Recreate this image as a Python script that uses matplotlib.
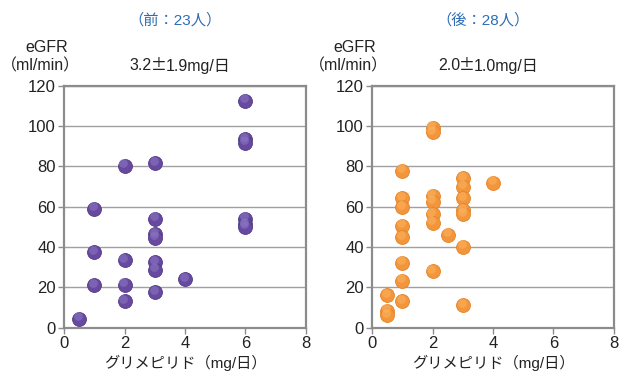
import matplotlib.pyplot as plt
import numpy as np

plt.rcParams['font.family'] = ['Liberation Sans', 'Noto Sans CJK JP']

# before (前): glimepiride dose (mg/day) vs eGFR
before_dose = [6, 6, 6, 2, 3, 1, 3, 6, 6, 6, 3, 3, 1, 2, 3, 3, 4, 1, 2, 3, 2, 0.5]
before_egfr = [112.6, 93.4, 91.7, 80.3, 81.7, 59, 54, 54, 51.4, 50.1, 46.3, 44.6,
               37.4, 33.4, 32.6, 28.8, 24.1, 21, 21.3, 17.5, 13.1, 4.5]

# after (後)
after_dose = [2, 2, 1, 3, 3, 4, 1, 1, 2, 2, 3, 3, 3, 2, 2, 1, 1, 2.5, 3, 1, 2, 1,
              0.5, 1, 3, 0.5, 0.5]
after_egfr = [99.2, 96.9, 77.9, 74.2, 69.9, 71.9, 64.3, 59.7, 65.5, 62.5, 64.3,
              58.3, 56.2, 56.2, 52.1, 50.6, 44.8, 46.1, 40.2, 32.2, 28.1, 23.3,
              16.2, 13.2, 11.2, 8.4, 6.3]

titles = ['（前：23人）', '（後：28人）']
means = [('3.2', '1.9mg/日'), ('2.0', '1.0mg/日')]
colors = ['#67499f', '#f3953a']
edges = ['#523a88', '#e58327']
highlights = ['#8c77c4', '#fbb462']

W, H = 627, 383
fig = plt.figure(figsize=(W / 100, H / 100), dpi=100)


def fx(px):
    return px / W


def fy(py):
    return 1 - py / H


panels = [
    (64.3, before_dose, before_egfr),
    (372.3, after_dose, after_egfr),
]

for i, (left, xs, ys) in enumerate(panels):
    ax = fig.add_axes([fx(left), fy(327.7), 241.5 / W, 242 / H])
    ax.scatter(xs, ys, s=100, color=colors[i], edgecolors=edges[i],
               linewidths=0.6, zorder=3, clip_on=False)
    ax.scatter(np.array(xs) - 0.04, np.array(ys) + 1.2, s=40,
               color=highlights[i], alpha=0.55, linewidths=0, zorder=4,
               clip_on=False)
    ax.set_xlim(0, 8)
    ax.set_ylim(0, 120)
    ax.set_xticks([0, 2, 4, 6, 8])
    ax.set_yticks(range(0, 121, 20))
    ax.yaxis.grid(True, color='#a0a0a0', linewidth=1.0)
    ax.set_axisbelow(True)
    for sp in ax.spines.values():
        sp.set_color('#8c8c8c')
        sp.set_linewidth(1.6)
    ax.tick_params(axis='both', length=4, width=1, color='#8c8c8c',
                   labelsize=12, labelcolor='#222222', pad=2)
    ax.set_xlabel('グリメピリド（mg/日）', fontsize=11, color='#222222', labelpad=3)

    off = left - 64.3
    fig.text(fx(175 + off), fy(20), titles[i], ha='center', va='center',
             fontsize=11, color='#2e6db4')
    fig.text(fx(47 + off), fy(47), 'eGFR', ha='center', va='center',
             fontsize=11.5, color='#222222')
    fig.text(fx(40 + off), fy(66), '（ml/min）', ha='center', va='center',
             fontsize=11.5, color='#222222')
    # mean ± SD, with a full-width ± as in the original
    a, b = means[i]
    fig.text(fx(152 + off), fy(66), a, ha='right', va='center',
             fontsize=11.5, color='#222222')
    fig.text(fx(159 + off), fy(66), '±', ha='center', va='center',
             fontsize=11.5, color='#222222', family='Noto Sans CJK JP')
    fig.text(fx(166 + off), fy(66), b, ha='left', va='center',
             fontsize=11.5, color='#222222')

fig.savefig('out.png', dpi=100)
